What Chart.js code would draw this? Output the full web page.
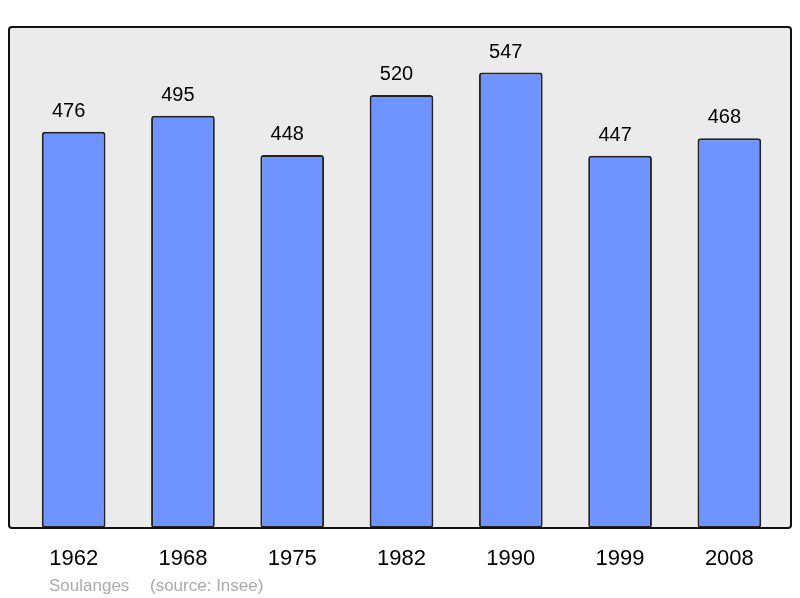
<!DOCTYPE html>
<html>
<head>
<meta charset="utf-8">
<script src="https://cdn.jsdelivr.net/npm/chart.js@4"></script>
<style>
html,body{margin:0;padding:0;background:#fff;}
#wrap{width:800px;height:598px;position:relative;}
</style>
</head>
<body>
<div id="wrap"><canvas id="c" width="800" height="598"></canvas></div>
<script>
const years = ["1962","1968","1975","1982","1990","1999","2008"];
const population = [476,495,448,520,547,447,468];
const footerName = "Soulanges";
const footerSource = "(source: Insee)";

const FONT = '"Liberation Sans", Arial, sans-serif';

const framePlugin = {
  id: 'frame',
  beforeDatasetsDraw(chart) {
    const ctx = chart.ctx;
    const a = chart.chartArea;
    ctx.save();
    ctx.beginPath();
    ctx.roundRect(9, a.top, 782, a.bottom - a.top, 3);
    ctx.fillStyle = '#ebebeb';
    ctx.fill();
    ctx.restore();
  },
  afterDatasetsDraw(chart) {
    const ctx = chart.ctx;
    const a = chart.chartArea;
    ctx.save();
    ctx.beginPath();
    ctx.roundRect(9, a.top, 782, a.bottom - a.top, 3);
    ctx.lineWidth = 2;
    ctx.strokeStyle = '#111';
    ctx.stroke();
    // value labels
    const meta = chart.getDatasetMeta(0);
    ctx.fillStyle = '#000';
    ctx.textAlign = 'center';
    ctx.textBaseline = 'alphabetic';
    ctx.font = '20px ' + FONT;
    meta.data.forEach((bar, i) => {
      ctx.fillText(String(population[i]), bar.x - 5, bar.y - 15);
    });
    // category labels
    const xs = chart.scales.x;
    ctx.font = '22px ' + FONT;
    years.forEach((y, i) => {
      ctx.fillText(y, xs.getPixelForValue(i), 565);
    });
    // footer
    ctx.textAlign = 'left';
    ctx.fillStyle = '#aaaaaa';
    ctx.font = '17px ' + FONT;
    ctx.fillText(footerName, 49, 591);
    ctx.fillText(footerSource, 150, 591);
    ctx.restore();
  }
};

new Chart(document.getElementById('c'), {
  type: 'bar',
  data: {
    labels: years,
    datasets: [{
      data: population,
      backgroundColor: '#7094ff',
      borderColor: '#222',
      borderWidth: 2,
      borderRadius: 3,
      borderSkipped: false,
      categoryPercentage: 1,
      barPercentage: 0.583
    }]
  },
  options: {
    responsive: false,
    animation: false,
    devicePixelRatio: 1,
    layout: { padding: { left: 19, right: 16, top: 27, bottom: 70 } },
    plugins: { legend: { display: false }, tooltip: { enabled: false } },
    scales: {
      x: { display: false },
      y: { display: false, min: 0, max: 601.7 }
    }
  },
  plugins: [framePlugin]
});
</script>
</body>
</html>
